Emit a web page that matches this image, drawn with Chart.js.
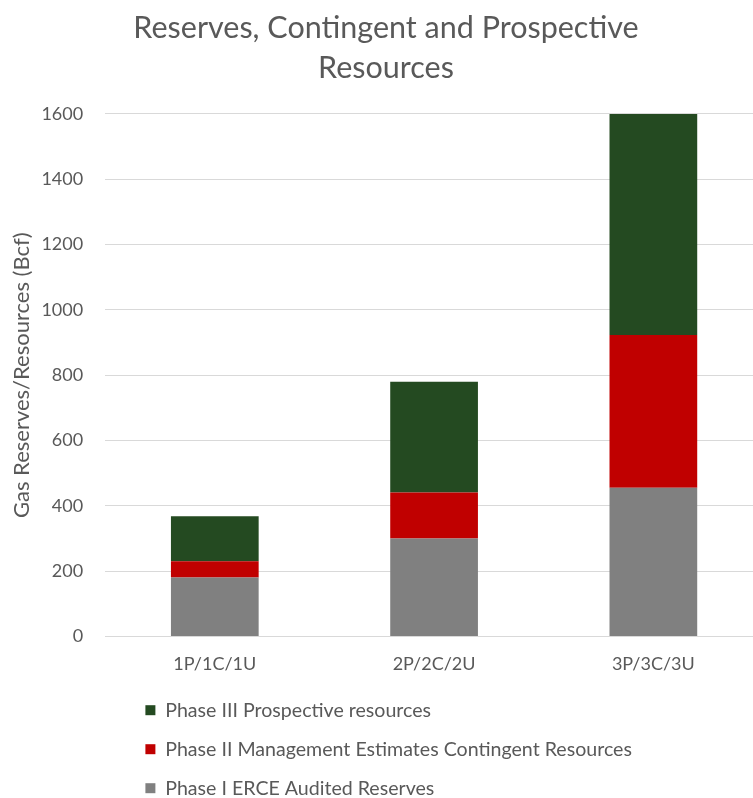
<!DOCTYPE html>
<html>
<head>
<meta charset="utf-8">
<script src="https://cdn.jsdelivr.net/npm/chart.js@4"></script>
<style>
  html, body { margin: 0; padding: 0; background: #fff; overflow: hidden; }
  #wrap { position: relative; width: 766px; height: 798px; }
</style>
</head>
<body>
<div id="wrap"><canvas id="c"></canvas></div>
<script>
const categories = ['1P/1C/1U', '2P/2C/2U', '3P/3C/3U'];
const phaseI = [180, 300, 455];
const phaseII = [50, 141, 468];
const phaseIII = [138, 339, 677];
const yTicks = [0, 200, 400, 600, 800, 1000, 1200, 1400, 1600];
const titleLines = ['Reserves, Contingent and Prospective', 'Resources'];
const yTitle = 'Gas Reserves/Resources (Bcf)';

const legendShift = {
  id: 'legendShift',
  afterLayout(chart) {
    if (chart.legend) {
      chart.legend.left += 117;
      chart.legend.top -= 3;
    }
  }
};

new Chart(document.getElementById('c'), {
  type: 'bar',
  data: {
    labels: categories,
    datasets: [
      { label: 'Phase I ERCE Audited Reserves', data: phaseI, backgroundColor: '#808080' },
      { label: 'Phase II Management Estimates Contingent Resources', data: phaseII, backgroundColor: '#c00000' },
      { label: 'Phase III Prospective resources', data: phaseIII, backgroundColor: '#244a21' }
    ]
  },
  options: {
    responsive: true,
    maintainAspectRatio: false,
    animation: false,
    layout: { padding: { left: 9, right: 3, top: 0, bottom: -13 } },
    datasets: { bar: { categoryPercentage: 1, barPercentage: 0.4 } },
    plugins: {
      title: {
        display: true,
        text: titleLines,
        color: '#595959',
        font: { family: 'Lato', size: 30.5, weight: 'normal', lineHeight: 1.31 },
        padding: { top: 8, bottom: 26 }
      },
      legend: {
        position: 'bottom',
        align: 'start',
        reverse: true,
        labels: {
          color: '#595959',
          font: { family: 'Lato', size: 19.6 },
          boxWidth: 10,
          boxHeight: 10,
          padding: 19.4
        }
      },
      tooltip: { enabled: false }
    },
    scales: {
      x: {
        stacked: true,
        grid: { display: false },
        border: { color: '#d9d9d9', width: 1 },
        ticks: { color: '#595959', font: { family: 'Lato', size: 18 }, padding: 9 }
      },
      y: {
        stacked: true,
        min: 0,
        max: 1600,
        afterBuildTicks(scale) { scale.ticks = yTicks.map(v => ({ value: v })); },
        grid: { color: '#d9d9d9', drawTicks: false },
        border: { display: false },
        ticks: { color: '#595959', font: { family: 'Lato', size: 18 }, padding: 22, callback: v => String(v) },
        title: {
          display: true,
          text: yTitle,
          color: '#595959',
          font: { family: 'Lato', size: 22 },
          padding: { top: 0, bottom: -16 }
        }
      }
    }
  },
  plugins: [legendShift]
});
</script>
</body>
</html>
